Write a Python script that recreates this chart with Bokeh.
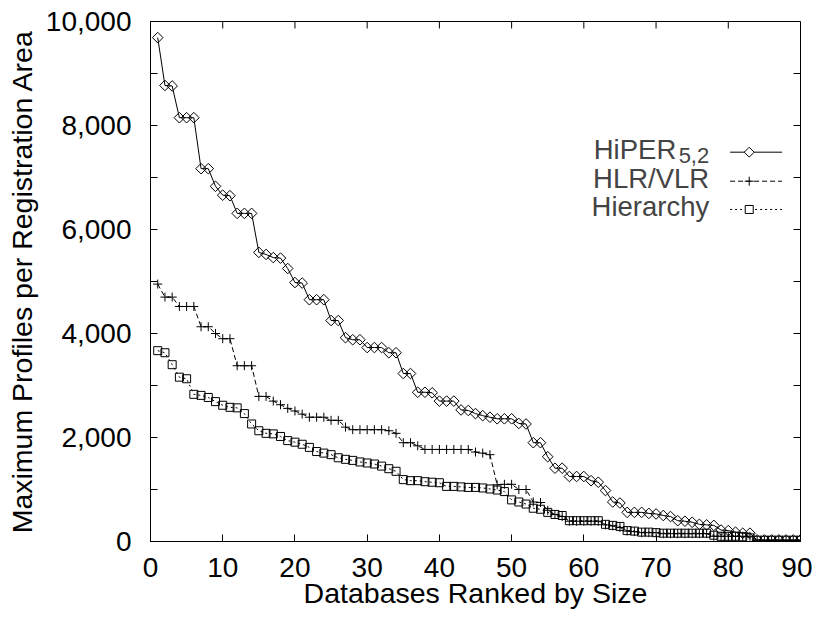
import numpy as np
from bokeh.plotting import figure
from bokeh.models import Range1d, FixedTicker, NumeralTickFormatter, Label
from bokeh.embed import file_html
from bokeh.resources import INLINE

# ---------------- data ----------------
rank = list(range(1, 91))

hiper = [9690, 8770, 8760, 8150, 8150, 8150, 7170, 7170, 6830, 6660,
         6650, 6310, 6310, 6310, 5560, 5520, 5460, 5450, 5250, 4980,
         4970, 4650, 4650, 4650, 4250, 4250, 3920, 3880, 3880, 3730,
         3730, 3730, 3630, 3630, 3230, 3230, 2870, 2870, 2860, 2700,
         2700, 2700, 2530, 2520, 2460, 2420, 2390, 2360, 2360, 2360,
         2270, 2260, 1900, 1900, 1630, 1410, 1410, 1250, 1250, 1250,
         1170, 1140, 980, 760, 740, 560, 560, 560, 540, 530,
         500, 480, 400, 390, 370, 330, 320, 310, 220, 210,
         180, 160, 160, 30, 30, 30, 30, 30, 30, 30]

hlr = [4950, 4700, 4700, 4520, 4520, 4520, 4130, 4130, 4000, 3900,
       3900, 3380, 3380, 3380, 2790, 2790, 2700, 2630, 2560, 2510,
       2450, 2390, 2390, 2390, 2330, 2330, 2200, 2150, 2150, 2150,
       2150, 2150, 2130, 2080, 1900, 1900, 1840, 1770, 1770, 1770,
       1770, 1770, 1770, 1770, 1720, 1700, 1670, 1090, 1100, 1100,
       1000, 1000, 760, 750, 600, 520, 480, 390, 390, 390,
       390, 390, 320, 300, 270, 200, 190, 170, 170, 170,
       150, 150, 150, 150, 150, 150, 150, 100, 100, 100,
       100, 100, 100, 20, 20, 20, 20, 20, 20, 20]

hier = [3670, 3630, 3400, 3160, 3130, 2830, 2810, 2770, 2690, 2620,
        2580, 2570, 2460, 2260, 2130, 2080, 2070, 2020, 1940, 1910,
        1870, 1810, 1730, 1700, 1670, 1610, 1580, 1560, 1530, 1510,
        1490, 1450, 1400, 1350, 1190, 1170, 1170, 1150, 1140, 1130,
        1060, 1060, 1050, 1040, 1040, 1030, 1010, 990, 960, 800,
        760, 720, 640, 620, 560, 520, 500, 400, 400, 400,
        400, 400, 330, 310, 290, 210, 200, 180, 180, 170,
        160, 160, 160, 160, 160, 160, 160, 120, 100, 100,
        100, 90, 70, 25, 25, 25, 25, 25, 25, 25]

x_ticks = [0, 10, 20, 30, 40, 50, 60, 70, 80, 90]
y_ticks = [0, 2000, 4000, 6000, 8000, 10000]
y_minor = [1000, 3000, 5000, 7000, 9000]

series_names = ["HiPER", "HLR/VLR", "Hierarchy"]

X_MIN, X_MAX = 0, 90
Y_MIN, Y_MAX = 0, 10000

# ---------------- figure ----------------
FONT = "Liberation Sans"
W, H = 812, 615
p = figure(width=W, height=H, x_range=Range1d(X_MIN, X_MAX), y_range=Range1d(Y_MIN, Y_MAX),
           output_backend="svg", toolbar_location=None,
           min_border_left=150, min_border_right=12, min_border_top=21,
           min_border_bottom=74)
p.grid.visible = False
p.outline_line_color = "black"
p.outline_line_width = 1
p.background_fill_color = "white"
p.border_fill_color = "white"

xt = FixedTicker(ticks=x_ticks, minor_ticks=[])
yt = FixedTicker(ticks=y_ticks, minor_ticks=y_minor)

xa = p.xaxis[0]
xa.ticker = xt
ya = p.yaxis[0]
ya.ticker = yt
ya.formatter = NumeralTickFormatter(format="0,0")

for ax in (xa, ya):
    ax.axis_line_color = "black"
    ax.major_tick_in = 7
    ax.major_tick_out = 0
    ax.minor_tick_in = 7
    ax.minor_tick_out = 0
    ax.major_tick_line_color = "black"
    ax.minor_tick_line_color = "black"
    ax.major_label_text_font = FONT
    ax.major_label_text_font_size = "28px"
    ax.major_label_text_color = "black"
    ax.axis_label_text_font = FONT
    ax.axis_label_text_font_size = "28.5px"
    ax.axis_label_text_font_style = "normal"
    ax.axis_label_text_color = "black"

xa.axis_label = "Databases Ranked by Size"
xa.major_label_standoff = 16
xa.axis_label_standoff = -3
ya.axis_label = "Maximum Profiles per Registration Area"
ya.major_label_standoff = 19
ya.axis_label_standoff = 5

# mirrored inward ticks on top and right edges
all_y = sorted(y_ticks + y_minor)
p.ray(x=x_ticks, y=[Y_MAX] * len(x_ticks), length=7, length_units="screen",
      angle=-np.pi / 2, line_color="black", line_width=1)
p.ray(x=[X_MAX] * len(all_y), y=all_y, length=7, length_units="screen",
      angle=np.pi, line_color="black", line_width=1)

# ---------------- series ----------------
p.line(rank, hiper, line_color="black", line_width=1)
p.scatter(rank, hiper, marker="square", angle=np.pi / 4, size=7.5,
          line_color="black", fill_alpha=0, line_width=1)

p.line(rank, hlr, line_color="black", line_width=1, line_dash="5 3")
p.scatter(rank, hlr, marker="cross", size=9, line_color="black", line_width=1)

p.line(rank, hier, line_color="black", line_width=1, line_dash="2 3")
p.scatter(rank, hier, marker="square", size=8, line_color="black", fill_alpha=0, line_width=1)

# ---------------- legend (custom, text left of sample) ----------------
leg_text_x = 77.36
leg_sub_left_x = 72.8
leg_line_x = [80.25, 87.45]
leg_mark_x = 82.9
leg_rows_y = [7487, 6929, 6385]
leg_base_y = [7540, 6985, 6445]
leg_sub_y = 7425

p.add_layout(Label(x=leg_sub_left_x, y=leg_base_y[0], text=series_names[0], text_align="right",
                   text_baseline="alphabetic", text_font=FONT, text_font_size="27.5px"))
p.add_layout(Label(x=leg_text_x, y=leg_sub_y, text="5,2", text_align="right",
                   text_baseline="alphabetic", text_font=FONT, text_font_size="22px"))
p.add_layout(Label(x=leg_text_x, y=leg_base_y[1], text=series_names[1], text_align="right",
                   text_baseline="alphabetic", text_font=FONT, text_font_size="27.5px"))
p.add_layout(Label(x=leg_text_x, y=leg_base_y[2], text=series_names[2], text_align="right",
                   text_baseline="alphabetic", text_font=FONT, text_font_size="27.5px"))

p.line(leg_line_x, [leg_rows_y[0]] * 2, line_color="black", line_width=1)
p.scatter([leg_mark_x], [leg_rows_y[0]], marker="square", angle=np.pi / 4, size=7,
          line_color="black", fill_color="white")
p.line(leg_line_x, [leg_rows_y[1]] * 2, line_color="black", line_width=1, line_dash="5 3")
p.scatter([leg_mark_x], [leg_rows_y[1]], marker="cross", size=9, line_color="black")
p.line(leg_line_x, [leg_rows_y[2]] * 2, line_color="black", line_width=1, line_dash="2 3")
p.scatter([leg_mark_x], [leg_rows_y[2]], marker="square", size=8, line_color="black", fill_color="white")

open("out.html", "w").write(file_html(p, INLINE))
